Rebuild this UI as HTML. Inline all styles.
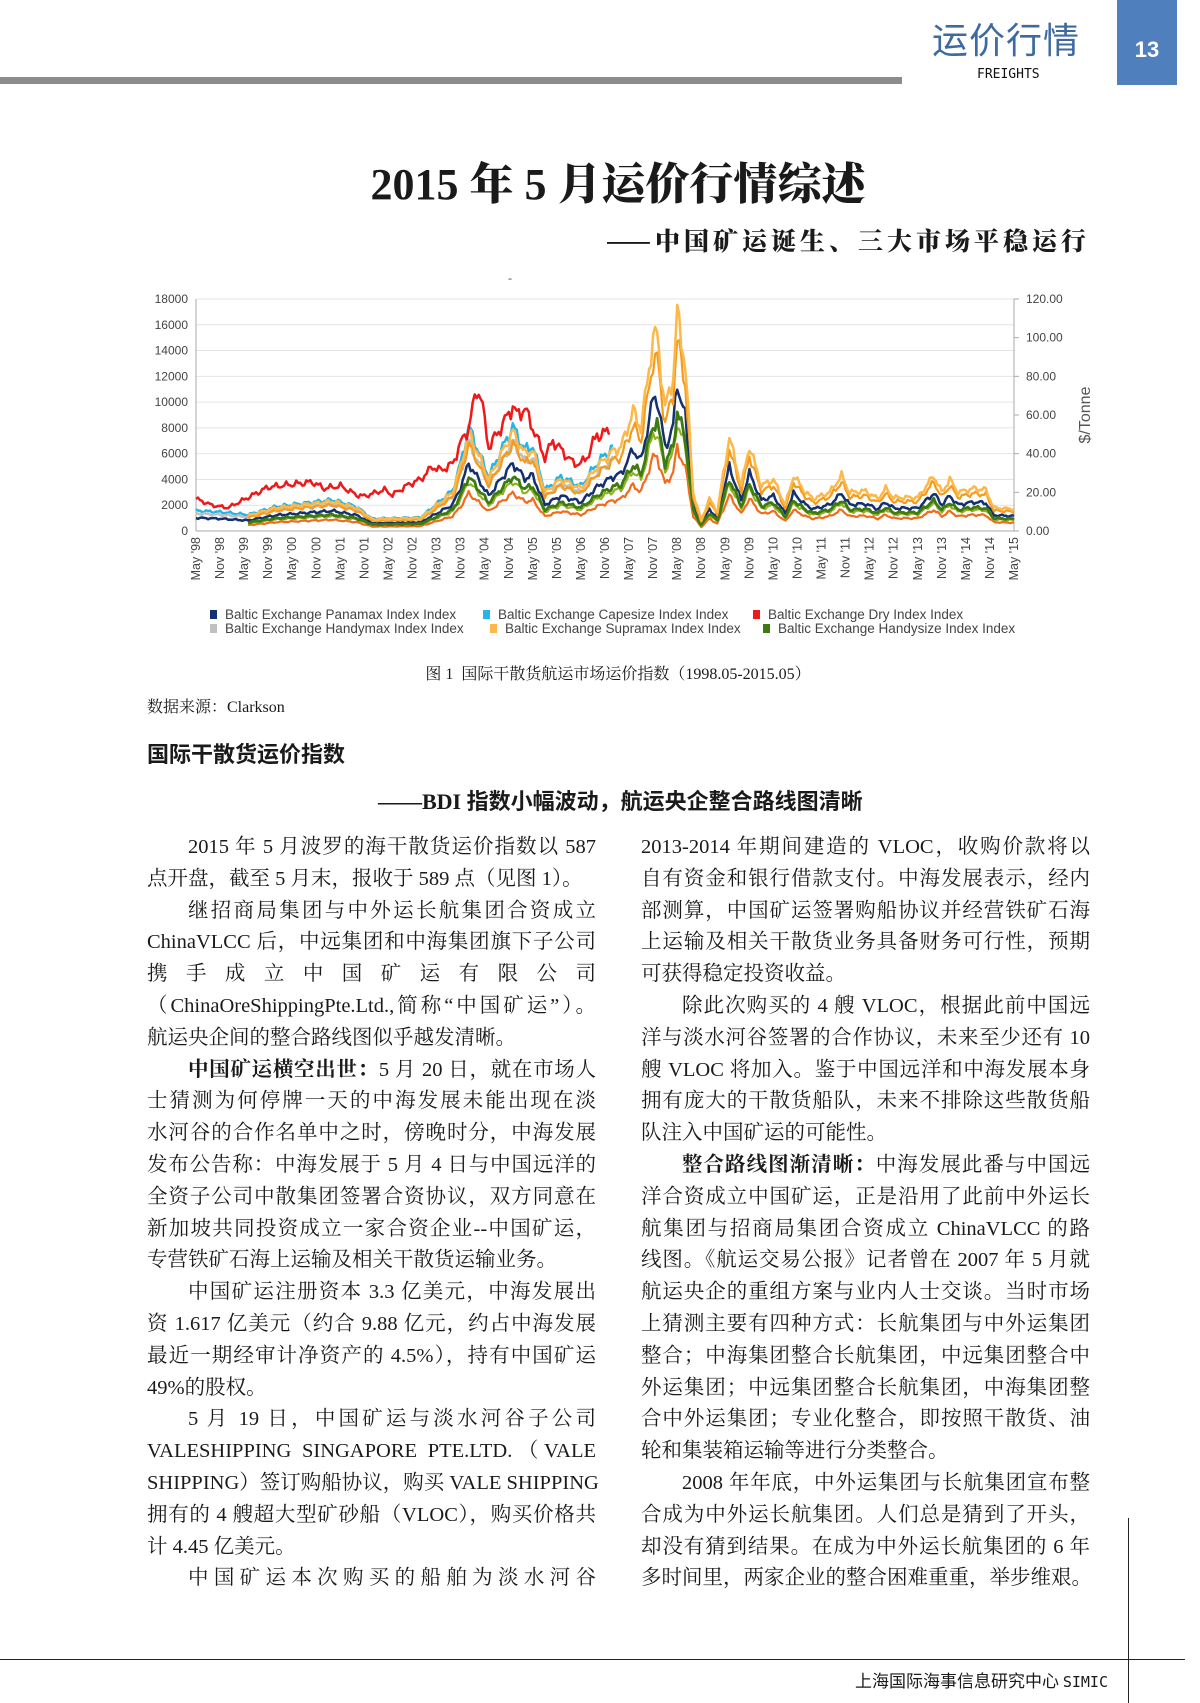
<!DOCTYPE html>
<html><head><meta charset="utf-8">
<style>
body{margin:0;width:1200px;height:1703px;background:#fff;position:relative;overflow:hidden;font-family:"Liberation Serif","Noto Serif CJK SC",serif;color:#1a1a1a}
.a{position:absolute;white-space:nowrap}
.col div{height:31.8px;line-height:31.8px;font-size:20.5px;text-align:justify;text-align-last:justify;white-space:nowrap}
.col div.e{text-align-last:left}
.col div.i{padding-left:41px}
.col{position:absolute;width:449px}
</style></head><body>
<div class="a" style="left:0;top:77px;width:902px;height:7px;background:#8c8c8c"></div>
<div class="a" style="left:932px;top:14px;font-family:'Noto Sans CJK SC',sans-serif;font-size:36px;line-height:48px;color:#3f6aa0;letter-spacing:1px">运价行情</div>
<div class="a" style="left:977px;top:67px;font-family:'DejaVu Sans Mono',monospace;font-size:13px;color:#111">FREIGHTS</div>
<div class="a" style="left:1117px;top:0;width:60px;height:85px;background:#4f7fbc"></div>
<div class="a" style="left:1117px;top:37px;width:60px;text-align:center;font-family:'Liberation Sans',sans-serif;font-weight:bold;font-size:22px;color:#fff">13</div>
<div class="a" style="left:0;width:1236px;top:148px;text-align:center;font-family:'Liberation Serif','Noto Serif CJK SC',serif;font-weight:900;font-size:44px">2015 年 5 月运价行情综述</div>
<div class="a" style="right:110px;top:222px;font-family:'Noto Serif CJK SC',serif;font-weight:900;font-size:25px;letter-spacing:4px">——中国矿运诞生、三大市场平稳运行</div>

<svg class="a" style="left:0;top:0" width="1200" height="660" id="ch">
<g font-family="Liberation Sans,sans-serif" font-size="12" fill="#444" id="ax"></g>
</svg>

<div class="a" style="left:0;width:1236px;top:661px;text-align:center;font-size:16px">图 1&nbsp; 国际干散货航运市场运价指数（1998.05-2015.05）</div>
<div class="a" style="left:147px;top:694px;font-size:16px">数据来源：Clarkson</div>
<div class="a" style="left:147px;top:737px;font-family:'Noto Sans CJK SC',sans-serif;font-weight:bold;font-size:22px">国际干散货运价指数</div>
<div class="a" style="left:378px;top:784px;font-family:'Liberation Serif','Noto Sans CJK SC',sans-serif;font-weight:bold;font-size:22px">——BDI 指数小幅波动，航运央企整合路线图清晰</div>

<div class="col" style="left:147px;top:832px">
<div class="i">2015 年 5 月波罗的海干散货运价指数以 587</div>
<div class="e">点开盘，截至 5 月末，报收于 589 点（见图 1）。</div>
<div class="i">继招商局集团与中外运长航集团合资成立</div>
<div>ChinaVLCC 后，中远集团和中海集团旗下子公司</div>
<div>携 手 成 立 中 国 矿 运 有 限 公 司</div>
<div>（ChinaOreShippingPte.Ltd.,简称“中国矿运”）。</div>
<div class="e">航运央企间的整合路线图似乎越发清晰。</div>
<div class="i"><b>中国矿运横空出世：</b>5 月 20 日，就在市场人</div>
<div>士猜测为何停牌一天的中海发展未能出现在淡</div>
<div>水河谷的合作名单中之时，傍晚时分，中海发展</div>
<div>发布公告称：中海发展于 5 月 4 日与中国远洋的</div>
<div>全资子公司中散集团签署合资协议，双方同意在</div>
<div>新加坡共同投资成立一家合资企业--中国矿运，</div>
<div class="e">专营铁矿石海上运输及相关干散货运输业务。</div>
<div class="i">中国矿运注册资本 3.3 亿美元，中海发展出</div>
<div>资 1.617 亿美元（约合 9.88 亿元，约占中海发展</div>
<div>最近一期经审计净资产的 4.5%），持有中国矿运</div>
<div class="e">49%的股权。</div>
<div class="i">5 月 19 日，中国矿运与淡水河谷子公司</div>
<div>VALESHIPPING SINGAPORE PTE.LTD.（VALE</div>
<div>SHIPPING）签订购船协议，购买 VALE SHIPPING</div>
<div>拥有的 4 艘超大型矿砂船（VLOC），购买价格共</div>
<div class="e">计 4.45 亿美元。</div>
<div class="i">中国矿运本次购买的船舶为淡水河谷</div>
</div>
<div class="col" style="left:641px;top:832px">
<div>2013-2014 年期间建造的 VLOC，收购价款将以</div>
<div>自有资金和银行借款支付。中海发展表示，经内</div>
<div>部测算，中国矿运签署购船协议并经营铁矿石海</div>
<div>上运输及相关干散货业务具备财务可行性，预期</div>
<div class="e">可获得稳定投资收益。</div>
<div class="i">除此次购买的 4 艘 VLOC，根据此前中国远</div>
<div>洋与淡水河谷签署的合作协议，未来至少还有 10</div>
<div>艘 VLOC 将加入。鉴于中国远洋和中海发展本身</div>
<div>拥有庞大的干散货船队，未来不排除这些散货船</div>
<div class="e">队注入中国矿运的可能性。</div>
<div class="i"><b>整合路线图渐清晰：</b>中海发展此番与中国远</div>
<div>洋合资成立中国矿运，正是沿用了此前中外运长</div>
<div>航集团与招商局集团合资成立 ChinaVLCC 的路</div>
<div>线图。《航运交易公报》记者曾在 2007 年 5 月就</div>
<div>航运央企的重组方案与业内人士交谈。当时市场</div>
<div>上猜测主要有四种方式：长航集团与中外运集团</div>
<div>整合；中海集团整合长航集团，中远集团整合中</div>
<div>外运集团；中远集团整合长航集团，中海集团整</div>
<div>合中外运集团；专业化整合，即按照干散货、油</div>
<div class="e">轮和集装箱运输等进行分类整合。</div>
<div class="i">2008 年年底，中外运集团与长航集团宣布整</div>
<div>合成为中外运长航集团。人们总是猜到了开头，</div>
<div>却没有猜到结果。在成为中外运长航集团的 6 年</div>
<div>多时间里，两家企业的整合困难重重，举步维艰。</div>
</div>

<div class="a" style="left:1128px;top:1518px;width:1px;height:185px;background:#222"></div>
<div class="a" style="left:0;top:1659px;width:1185px;height:1px;background:#222"></div>
<div class="a" style="right:92px;top:1667px;font-family:'Noto Sans CJK SC',sans-serif;font-size:17px">上海国际海事信息研究中心 <span style="font-family:'DejaVu Sans Mono',monospace;font-size:15px">SIMIC</span></div>

<script>
(function(){
var NS="http://www.w3.org/2000/svg",svg=document.getElementById('ch'),ax=document.getElementById('ax');
var L=196,R=1014,T=299,B=531;
function X(m){return L+m*(R-L)/204}
function Y(v){return B-v*(B-T)/18000}
function el(t,a,p,txt){var e=document.createElementNS(NS,t);for(var k in a)e.setAttribute(k,a[k]);if(txt!=null)e.textContent=txt;(p||svg).appendChild(e);return e}
for(var v=0;v<=18000;v+=2000){el('line',{x1:L,x2:R,y1:Y(v),y2:Y(v),stroke:'#e4e4e4'});
 el('text',{x:L-8,y:Y(v)+4,'text-anchor':'end'},ax,v);}
for(var r=0;r<=120;r+=20){var yy=Y(r*150);el('line',{x1:R,x2:R+5,y1:yy,y2:yy,stroke:'#aaa'});
 el('text',{x:R+12,y:yy+4},ax,r.toFixed(2));}
el('line',{x1:L,x2:L,y1:T,y2:B,stroke:'#aaa'});el('line',{x1:R,x2:R,y1:T,y2:B,stroke:'#aaa'});
el('line',{x1:L,x2:R,y1:B,y2:B,stroke:'#aaa'});
el('text',{x:1090,y:415,'font-size':16,'font-family':'Liberation Sans,sans-serif',fill:'#555',transform:'rotate(-90 1090 415)','text-anchor':'middle'},null,'$/Tonne');
el('text',{x:508,y:282,'font-size':12,fill:'#444'},null,'-');
for(var i=0;i<=34;i++){var m=i*6,x=X(m)+4,yr=(98+Math.floor((m+4)/12))%100;
 var lab=(i%2?'Nov':'May')+" '"+(yr<10?'0':'')+yr;
 el('text',{x:x,y:B+6,'text-anchor':'end','font-size':12.5,'font-family':'Liberation Sans,sans-serif',fill:'#444',transform:'rotate(-90 '+x+' '+(B+6)+')'},null,lab);}
function interp(k,m){for(var i=0;i<k.length-1;i++){if(m>=k[i][0]&&m<=k[i+1][0]){var t=(m-k[i][0])/(k[i+1][0]-k[i][0]);return k[i][1]+t*(k[i+1][1]-k[i][1]);}}return k[k.length-1][1]}
var Bk=[[0,1500],[6,1400],[13,1200],[20,1800],[34,2300],[40,1800],[44,900],[56,1000],[60,2000],[64,3000],[66,5000],[68,7700],[73,4000],[77,6500],[79,7700],[82,6000],[84,6300],[87,3000],[91,4000],[96,3300],[100,5000],[104,6200],[106,6500],[109,9300],[111,8000],[114,15000],[115,15200],[117,9500],[119,12000],[120,16900],[122,13000],[124,3000],[126,800],[128,2500],[130,1500],[133,7300],[136,3500],[138,6600],[141,3500],[144,4000],[147,2000],[149,4300],[152,3000],[154,2500],[158,3000],[161,4300],[163,3000],[167,3100],[170,2500],[172,3300],[174,2600],[180,2600],[184,4300],[186,3000],[188,4000],[190,3000],[194,3300],[197,3200],[199,1800],[204,1700]];
var Rk=[[0,2500],[4,2000],[8,1800],[18,3400],[29,3800],[32,3300],[36,3500],[40,2800],[42,2700],[47,3200],[49,2800],[53,3600],[56,4000],[59,5000],[61,4700],[64,5200],[66,6800],[68,8000],[70,11000],[71,10500],[73,6500],[76,8000],[79,9700],[80,9000],[82,9500],[84,8000],[87,5700],[89,7000],[94,5300],[96,5200],[98,6000],[100,7600],[101,7300],[103,8000]];
function line(k,f,a,b,col,w,ph){var p=[];for(var m=a;m<=b;m+=0.5){var v=interp(k,m)*f*(1+0.05*Math.sin(m*2.3+ph)+0.03*Math.sin(m*5.1+ph*2));p.push(X(m).toFixed(1)+','+Y(Math.max(v,300)).toFixed(1));}
 el('polyline',{points:p.join(' '),fill:'none',stroke:col,'stroke-width':w,'stroke-linejoin':'round'});}
line(Bk,1.05,0,104,'#27b5e6',2.5,1);
line(Bk,0.9,0,104,'#c0c0c0',2.5,2);
line(Bk,0.38,13,204,'#f26b1d',2.2,3);
line(Bk,0.68,0,204,'#14306e',2.5,4);
line(Bk,0.5,13,204,'#8fb21f',2.2,5);
line(Bk,0.55,13,204,'#3d7a12',2.8,6);
line(Bk,0.88,13,204,'#f59a1b',2.2,7);
line(Bk,1.0,13,204,'#fcb848',2.5,8);
line(Rk,1.0,0,103,'#f01818',2.5,0);
var lg=[[210,619,'#14306e','Baltic Exchange Panamax Index Index'],[483,619,'#27b5e6','Baltic Exchange Capesize Index Index'],[753,619,'#f01818','Baltic Exchange Dry Index Index'],[210,633,'#c0c0c0','Baltic Exchange Handymax Index Index'],[490,633,'#fcb848','Baltic Exchange Supramax Index Index'],[763,633,'#3d7a12','Baltic Exchange Handysize Index Index']];
lg.forEach(function(d){el('rect',{x:d[0],y:d[1]-9,width:7,height:9,fill:d[2]});el('text',{x:d[0]+15,y:d[1],'font-size':13.5,'font-family':'Liberation Sans,sans-serif',fill:'#444'},null,d[3]);});
})();
</script>
</body></html>
